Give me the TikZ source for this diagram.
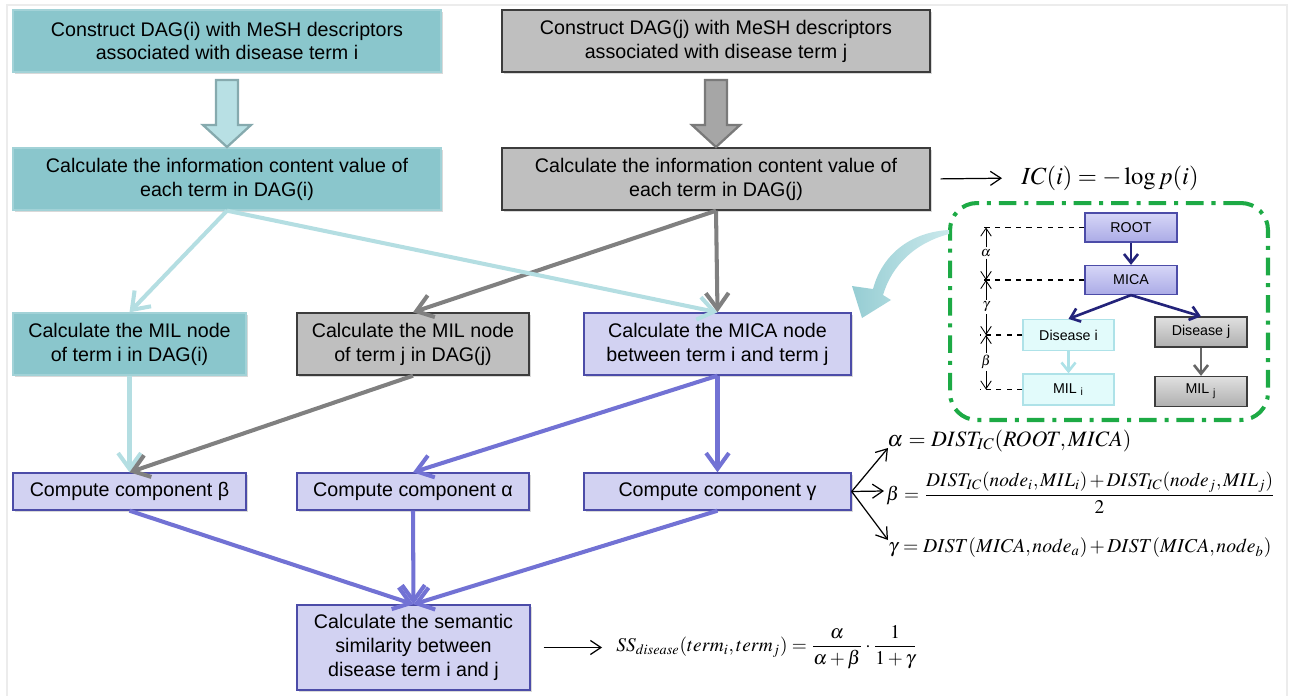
\documentclass[tikz,border=0pt]{standalone}
\usepackage{mathptmx}
\usepackage[no-math]{fontspec}
\setmainfont{Liberation Sans}
\usetikzlibrary{arrows.meta,calc,shadows}

\definecolor{tealfill}{HTML}{8AC6CC}
\definecolor{tealdraw}{HTML}{A2D2D7}
\definecolor{tealarrow}{HTML}{B4DEE2}
\definecolor{tealhollow}{HTML}{B8E0E4}
\definecolor{tealhollowline}{HTML}{86AAAE}
\definecolor{grayfill}{HTML}{BFBFBF}
\definecolor{graydraw}{HTML}{3C3C3C}
\definecolor{grayarrow}{HTML}{808080}
\definecolor{grayhollow}{HTML}{A6A6A6}
\definecolor{grayhollowline}{HTML}{7A7A7A}
\definecolor{lavfill}{HTML}{D2D2F2}
\definecolor{lavdraw}{HTML}{4C4CA8}
\definecolor{lavarrow}{HTML}{7272D4}
\definecolor{navyarrow}{HTML}{23237A}
\definecolor{roottop}{HTML}{D6D6F7}
\definecolor{rootbot}{HTML}{ABABE6}
\definecolor{disifill}{HTML}{E2FBFB}
\definecolor{disidraw}{HTML}{AEE2E8}
\definecolor{disitop}{HTML}{E0E0E0}
\definecolor{disibot}{HTML}{AFAFAF}
\definecolor{zoomgreen}{HTML}{1DAA45}
\definecolor{curveA}{HTML}{96CDD3}
\definecolor{curveB}{HTML}{CBE9EC}

\newcommand{\boxfont}{\fontsize{11.2}{13.6}\selectfont}
\newcommand{\smallboxfont}{\fontsize{8.1}{9.5}\selectfont}
\newcommand{\tightmath}{\medmuskip=2mu plus 1mu\thickmuskip=4.5mu plus 2mu\thinmuskip=1.5mu}

\tikzset{
  flowbox/.style={align=center, font=\boxfont, line width=0.8pt,
    drop shadow={shadow xshift=1.2pt, shadow yshift=-1.2pt, opacity=0.3}},
  tealbox/.style={flowbox, draw=tealdraw, fill=tealfill},
  graybox/.style={flowbox, draw=graydraw, fill=grayfill},
  lavbox/.style={flowbox, draw=lavdraw, fill=lavfill},
  flowline/.style={line width=2.3pt, -{Straight Barb[length=9pt,width=13pt]}},
  tealline/.style={flowline, draw=tealarrow},
  grayline/.style={flowline, draw=grayarrow},
  lavline/.style={flowline, draw=lavarrow},
  hollowarrow/.style={line width=1.3pt, line join=miter},
  thinarrow/.style={line width=0.7pt, -{Straight Barb[length=6pt,width=8pt]}},
  fml/.style={anchor=west, inner sep=0pt, font=\fontsize{11.2}{14}\selectfont\tightmath},
  zoombox/.style={draw=zoomgreen, line width=2.3pt, rounded corners=0.54cm,
    dash pattern=on 10pt off 4.5pt on 2.3pt off 4.5pt},
  smallbox/.style={font=\smallboxfont, line width=0.7pt},
  rootbox/.style={smallbox, draw=lavdraw, top color=roottop, bottom color=rootbot,
    minimum width=1.84cm, minimum height=0.58cm},
  disibox/.style={smallbox, draw=disidraw, fill=disifill,
    minimum width=1.82cm, minimum height=0.62cm},
  disjbox/.style={smallbox, draw=graydraw, top color=disitop, bottom color=disibot,
    minimum width=1.84cm, minimum height=0.6cm},
  innerline/.style={line width=1.5pt, -{Straight Barb[length=5pt,width=8pt]}},
  dimline/.style={dashed, line width=0.6pt},
  dimarrow/.style={line width=0.5pt, -{Straight Barb[length=4.5pt,width=6pt]}},
  dimlabel/.style={inner sep=1pt, font=\fontsize{8}{9}\selectfont}
}

\begin{document}
\begin{tikzpicture}[x=0.02cm, y=-0.02cm]
\useasboundingbox (0,0) rectangle (1291,696);
\draw[gray!15, line width=0.6pt] (7,696) -- (7,5) -- (1287,5) -- (1287,696);

% flow chart boxes
\node[tealbox, minimum width=8.56cm, minimum height=1.24cm] (ctdi) at (227,41) {Construct DAG(i) with MeSH descriptors\\associated with disease term i};
\node[graybox, minimum width=8.56cm, minimum height=1.24cm] (ctdj) at (716,41) {Construct DAG(j) with MeSH descriptors\\associated with disease term j};
\node[tealbox, minimum width=8.56cm, minimum height=1.24cm] (icdi) at (227,179) {Calculate the information content value of\\each term in DAG(i)};
\node[graybox, minimum width=8.56cm, minimum height=1.24cm] (icdj) at (716,179) {Calculate the information content value of\\each term in DAG(j)};
\node[tealbox, minimum width=4.66cm, minimum height=1.24cm] (mili) at (129.5,344) {Calculate the MIL node\\of term i in DAG(i)};
\node[graybox, minimum width=4.64cm, minimum height=1.24cm] (milj) at (413,344) {Calculate the MIL node\\of term j in DAG(j)};
\node[lavbox, minimum width=5.34cm, minimum height=1.24cm] (mica) at (717.5,344) {Calculate the MICA node\\between term i and term j};
\node[lavbox, minimum width=4.66cm, minimum height=0.74cm] (cbeta) at (129.5,491.5) {Compute component β};
\node[lavbox, minimum width=4.64cm, minimum height=0.74cm] (calpha) at (413,491.5) {Compute component α};
\node[lavbox, minimum width=5.34cm, minimum height=0.74cm] (cgamma) at (717.5,491.5) {Compute component γ};
\node[lavbox, minimum width=4.66cm, minimum height=1.7cm] (simij) at (413.5,647.5) {Calculate the semantic\\similarity between\\disease term i and j};

% hollow arrows
\draw[hollowarrow, fill=tealhollow, draw=tealhollowline] (216,80) -- (238,80) -- (238,125) -- (251,125) -- (227,147) -- (203,125) -- (216,125) -- cycle;
\draw[hollowarrow, fill=grayhollow, draw=grayhollowline] (705,80) -- (727,80) -- (727,125) -- (740,125) -- (716,147) -- (692,125) -- (705,125) -- cycle;

% connectors
\draw[tealline] (icdi.south) -- (mili.north);
\draw[grayline] (icdj.south) -- (milj.north);
\draw[tealline] (icdi.south) -- (mica.north);
\draw[grayline] (icdj.south) -- (mica.north);
\draw[tealline] (mili.south) -- (cbeta.north);
\draw[grayline] (milj.south) -- (cbeta.north);
\draw[lavline] (mica.south) -- (calpha.north);
\draw[lavline] (mica.south) -- (cgamma.north);
\draw[lavline] (cbeta.south) -- (simij.north);
\draw[lavline] (calpha.south) -- (simij.north);
\draw[lavline] (cgamma.south) -- (simij.north);

% formulas
\node[fml, font=\fontsize{14}{17}\selectfont] (icf) at (1021,178) {$IC(i) = -\log p(i)$};
\draw[thinarrow, shorten <=0.2cm, shorten >=0.38cm] (icdj.east) -- (icf.west);
\node[fml, font=\fontsize{12.5}{15}\selectfont\tightmath] (alphaf) at (887,441) {$\alpha = DIST_{IC}(ROOT,MICA)$};
\node[fml, font=\fontsize{11}{14}\selectfont\tightmath] (betaf) at (886,493) {$\displaystyle\beta = \frac{DIST_{IC}(node_i,MIL_i) + DIST_{IC}(node_j,MIL_j)}{2}$};
\node[fml] (gammaf) at (888,548) {$\gamma = DIST(MICA,node_a) + DIST(MICA,node_b)$};
\draw[thinarrow] (cgamma.east) -- ($(alphaf.west)+(1,7)$);
\draw[thinarrow] (cgamma.east) -- ($(betaf.west)+(-2,-2)$);
\draw[thinarrow] (cgamma.east) -- ($(gammaf.west)+(0,-8)$);
\node[fml, font=\fontsize{11}{13}\selectfont] (ssf) at (616,647.5) {$\displaystyle SS_{disease}(term_i,term_j) = \frac{\alpha}{\alpha+\beta}\cdot\frac{1}{1+\gamma}$};
\draw[thinarrow, shorten <=0.26cm, shorten >=0.28cm] (simij.east) -- (ssf.west);

% zoomed view
\node[zoombox, minimum width=6.36cm, minimum height=4.34cm] (zoomview) at (1109,311.5) {};
\shade[left color=curveA, right color=curveB] (949,230) .. controls (910,232) and (882,255) .. (873,289) -- (852,286) -- (862,318) -- (891,300) -- (883,295) .. controls (892,265) and (915,243) .. (949,234) -- cycle;

\node[rootbox] (root) at (1131,227.5) {ROOT};
\node[rootbox] (mic) at (1131,280) {MICA};
\node[disibox] (disi) at (1068.5,335) {Disease i};
\node[disjbox] (disj) at (1201,332) {Disease j};
\node[disibox] (mlii) at (1068.5,389.5) {MIL \textsubscript{i}};
\node[disjbox] (mlij) at (1201,391.5) {MIL \textsubscript{j}};
\draw[innerline, draw=navyarrow] (root) -- (mic);
\draw[innerline, draw=navyarrow] (mic.south) -- (disi.north);
\draw[innerline, draw=navyarrow] (mic.south) -- (disj.north);
\draw[innerline, draw=disidraw] (disi) -- (mlii);
\draw[innerline, draw=grayarrow!80!black] (disj) -- (mlij);

\coordinate (dimx) at (980,0);
\draw[dimline] (root.west) -- (root.west -| dimx);
\draw[dimline] (mic.west) -- (mic.west -| dimx);
\draw[dimline] (disi.west) -- (disi.west -| dimx);
\draw[dimline] (mlii.west) -- (mlii.west -| dimx);
\node[dimlabel] (dima) at (986,253) {$\alpha$};
\node[dimlabel] (dimg) at (986,307) {$\gamma$};
\node[dimlabel] (dimb) at (986,362) {$\beta$};
\draw[dimarrow] (dima) -- (dima |- root.west);
\draw[dimarrow] (dima) -- (dima |- mic.west);
\draw[dimarrow] (dimg) -- (dimg |- mic.west);
\draw[dimarrow] (dimg) -- (dimg |- disi.west);
\draw[dimarrow] (dimb) -- (dimb |- disi.west);
\draw[dimarrow] (dimb) -- (dimb |- mlii.west);
\end{tikzpicture}
\end{document}
